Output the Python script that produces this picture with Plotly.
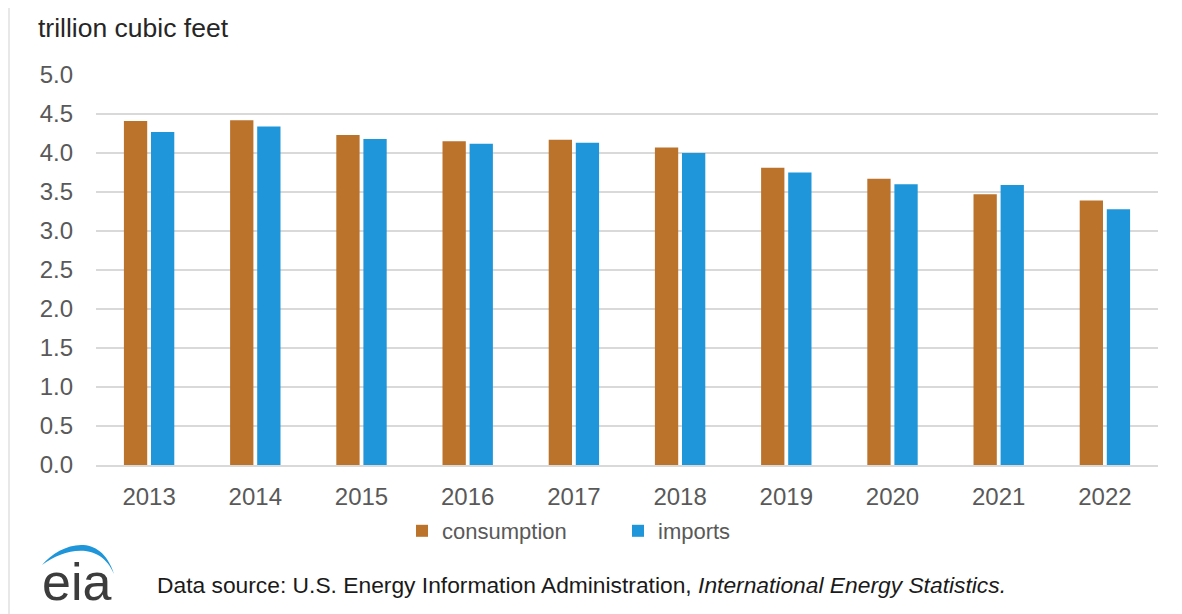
import plotly.graph_objects as go

years = ["2013", "2014", "2015", "2016", "2017", "2018", "2019", "2020", "2021", "2022"]
consumption = [4.41, 4.42, 4.23, 4.15, 4.17, 4.07, 3.81, 3.67, 3.47, 3.39]
imports = [4.27, 4.34, 4.18, 4.12, 4.13, 4.00, 3.75, 3.60, 3.59, 3.28]
y_ticks = [0.0, 0.5, 1.0, 1.5, 2.0, 2.5, 3.0, 3.5, 4.0, 4.5, 5.0]

OFF = 8  # page body margin
W, H = 1182 - OFF, 614 - OFF
# plot area in reference-pixel coordinates
L, R, T, B = 96, 1158, 75, 465


def px(x):
    return (x - L) / (R - L)


def py(y):
    return (B - y) / (B - T)


FONT = "Liberation Sans, Arial, sans-serif"

fig = go.Figure()
fig.add_trace(go.Bar(x=years, y=consumption, name="consumption",
                     marker=dict(color="#BB722B", line=dict(width=0))))
fig.add_trace(go.Bar(x=years, y=imports, name="imports",
                     marker=dict(color="#1E96D9", line=dict(width=0))))

fig.update_layout(
    width=W, height=H,
    margin=dict(l=L - OFF, r=1182 - R, t=T - OFF, b=614 - B),
    plot_bgcolor="white", paper_bgcolor="white",
    barmode="group", bargap=0.49, bargroupgap=0.14,
    font=dict(family=FONT, color="#595959", size=22),
    showlegend=True,
    legend=dict(orientation="h", x=px(402), xanchor="left", y=py(531), yanchor="middle",
                font=dict(size=22, color="#595959"), itemwidth=30,
                entrywidth=171, entrywidthmode="pixels", bgcolor="rgba(0,0,0,0)"),
    xaxis=dict(showgrid=False, showline=True, linecolor="#d9d9d9", linewidth=1.5,
               ticks="", tickfont=dict(size=24, color="#595959"), ticklabelstandoff=9),
    yaxis=dict(range=[0, 5], tickvals=y_ticks, ticktext=[f"{v:.1f}" for v in y_ticks],
               showgrid=True, gridcolor="#d9d9d9", gridwidth=1.5, zeroline=False,
               ticks="", tickfont=dict(size=24, color="#595959"), ticklabelstandoff=22),
)

fig.add_annotation(text="trillion cubic feet", xref="paper", yref="paper",
                   x=px(36), y=py(28), xanchor="left", yanchor="middle",
                   showarrow=False, font=dict(size=26.5, color="#262626", family=FONT))

fig.add_annotation(text="Data source: U.S. Energy Information Administration, <i>International Energy Statistics.</i>",
                   xref="paper", yref="paper", x=px(155), y=py(585),
                   xanchor="left", yanchor="middle", showarrow=False,
                   font=dict(size=22.8, color="#1a1a1a", family=FONT))

fig.add_annotation(text="eia", xref="paper", yref="paper", x=px(76), y=py(582),
                   xanchor="center", yanchor="middle", showarrow=False,
                   font=dict(size=52, color="#3c3c3c", family=FONT))

# eia swoosh (cubic outer + inner edge)
outer = [(42, 565), (60, 544), (100, 530), (114, 574)]
inner = [(114, 574), (100, 541), (65, 548), (42, 565)]
path = "M{:.5f},{:.5f} C{:.5f},{:.5f} {:.5f},{:.5f} {:.5f},{:.5f} C{:.5f},{:.5f} {:.5f},{:.5f} {:.5f},{:.5f} Z".format(
    px(outer[0][0]), py(outer[0][1]),
    px(outer[1][0]), py(outer[1][1]),
    px(outer[2][0]), py(outer[2][1]),
    px(outer[3][0]), py(outer[3][1]),
    px(inner[1][0]), py(inner[1][1]),
    px(inner[2][0]), py(inner[2][1]),
    px(inner[3][0]), py(inner[3][1]))
fig.add_shape(type="path", path=path, xref="paper", yref="paper",
              fillcolor="#1E96D9", line=dict(width=0))

# left frame line
fig.add_shape(type="line", xref="paper", yref="paper", x0=px(9), x1=px(9), y0=py(0), y1=py(614),
              line=dict(color="#e0e0e0", width=1.5))

fig.write_html("out.html")
